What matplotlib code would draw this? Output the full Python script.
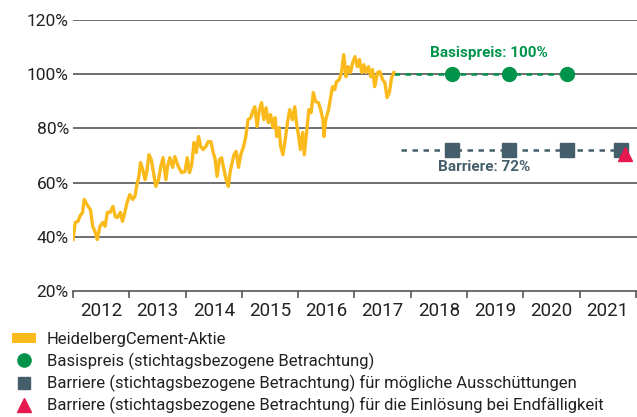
import matplotlib.pyplot as plt
from matplotlib.patches import Patch
from matplotlib.lines import Line2D

plt.rcParams['font.family'] = ['Roboto', 'DejaVu Sans']

# Kursverlauf HeidelbergCement (in % vom Basispreis)
aktie_jahr = [
    2012.00, 2012.04, 2012.09, 2012.12, 2012.17, 2012.20, 2012.23, 2012.27, 2012.31, 2012.35,
    2012.39, 2012.43, 2012.48, 2012.53, 2012.57, 2012.61, 2012.66, 2012.71, 2012.75, 2012.79,
    2012.84, 2012.88, 2012.92, 2012.96, 2013.01, 2013.06, 2013.10, 2013.13, 2013.17, 2013.20,
    2013.24, 2013.28, 2013.31, 2013.35, 2013.39, 2013.43, 2013.47, 2013.52, 2013.56, 2013.60,
    2013.65, 2013.68, 2013.72, 2013.77, 2013.81, 2013.87, 2013.93, 2013.99, 2014.03, 2014.07,
    2014.11, 2014.15, 2014.19, 2014.23, 2014.27, 2014.31, 2014.36, 2014.40, 2014.45, 2014.49,
    2014.52, 2014.56, 2014.60, 2014.64, 2014.67, 2014.72, 2014.76, 2014.79, 2014.82, 2014.86,
    2014.90, 2014.94, 2014.98, 2015.03, 2015.07, 2015.11, 2015.16, 2015.19, 2015.23, 2015.27,
    2015.31, 2015.35, 2015.39, 2015.43, 2015.47, 2015.51, 2015.55, 2015.59, 2015.62, 2015.66,
    2015.69, 2015.73, 2015.77, 2015.81, 2015.85, 2015.90, 2015.94, 2015.97, 2016.01, 2016.04,
    2016.08, 2016.11, 2016.15, 2016.19, 2016.23, 2016.27, 2016.31, 2016.36, 2016.40, 2016.44,
    2016.46, 2016.49, 2016.54, 2016.58, 2016.61, 2016.65, 2016.68, 2016.73, 2016.77, 2016.81,
    2016.85, 2016.89, 2016.93, 2016.97, 2017.01, 2017.05, 2017.09, 2017.13, 2017.17, 2017.20,
    2017.25, 2017.29, 2017.32, 2017.36, 2017.41, 2017.45, 2017.50, 2017.54, 2017.58, 2017.62,
    2017.66, 2017.70,
]
aktie_wert = [
    39.0, 45.3, 45.7, 47.5, 49.0, 53.8, 52.6, 51.2, 50.0, 43.9,
    42.0, 39.0, 43.9, 45.3, 43.9, 49.0, 49.0, 51.2, 47.5, 47.1,
    49.0, 45.7, 49.0, 52.6, 55.6, 53.8, 54.9, 58.6, 62.3, 67.4,
    64.8, 61.1, 63.7, 70.3, 68.5, 63.7, 58.6, 61.1, 66.0, 69.2,
    61.1, 66.0, 69.2, 65.6, 69.6, 66.0, 63.7, 64.1, 69.2, 63.7,
    66.7, 74.8, 71.1, 77.0, 73.3, 72.2, 73.3, 75.1, 75.1, 71.1,
    69.2, 62.3, 68.5, 69.2, 66.0, 61.1, 58.6, 63.7, 66.7, 70.3,
    71.5, 65.6, 70.3, 73.3, 77.0, 83.2, 84.0, 86.2, 88.0, 80.7,
    86.9, 89.5, 83.2, 87.6, 82.1, 85.1, 80.3, 84.0, 77.0, 80.3,
    73.3, 70.3, 75.9, 82.1, 86.9, 83.2, 88.0, 82.1, 77.0, 72.2,
    78.5, 70.3, 78.5, 86.9, 85.8, 93.2, 89.9, 89.5, 86.9, 83.2,
    77.0, 83.2, 86.9, 91.7, 95.4, 94.3, 97.2, 98.0, 100.6, 107.2,
    99.1, 102.8, 100.6, 104.3, 106.5, 102.8, 105.4, 100.6, 103.5, 100.6,
    102.8, 99.1, 101.7, 95.4, 100.6, 101.0, 98.0, 96.9, 91.4, 93.2,
    98.7, 100.6,
]

# Beobachtungstage
basis_jahr = [2018.73, 2019.74, 2020.77]
basis_wert = [100, 100, 100]
barriere_jahr = [2018.73, 2019.74, 2020.77, 2021.73]
barriere_wert = [72, 72, 72, 72]
end_jahr = [2021.80]
end_wert = [70.6]

jahre = list(range(2012, 2022))
y_ticks = [20, 40, 60, 80, 100, 120]

gelb = '#FBBA1B'
gruen = '#00944A'
schiefer = '#455E6C'
rot = '#E6194F'
grau = '#555555'

fig = plt.figure(figsize=(6.37, 4.17), dpi=100)
ax = fig.add_axes([73 / 637, 1 - 291 / 417, 1 - 73 / 637, (291 - 20) / 417])

ax.set_xlim(2012, 2022.02)
ax.set_ylim(20, 120)

for v in y_ticks[1:]:
    ax.axhline(v, color=grau, lw=1.2, zorder=1)

# gestrichelte Linien bis zum Laufzeitende
ax.plot([aktie_jahr[-1], basis_jahr[-1]], [100, 100], color=gruen, lw=1.8,
        dashes=(2.2, 2.2), zorder=2)
ax.plot([2017.83, barriere_jahr[-1]], [72, 72], color=schiefer, lw=1.8,
        dashes=(2.2, 2.2), zorder=2)

ax.plot(aktie_jahr, aktie_wert, color=gelb, lw=2.4, zorder=3)

ax.plot(basis_jahr, basis_wert, 'o', color=gruen, ms=10, zorder=4)
ax.plot(barriere_jahr, barriere_wert, 's', color=schiefer, ms=9.5, zorder=4)
ax.plot(end_jahr, end_wert, '^', color=rot, ms=9.5, zorder=5)

ax.text(2019.38, 107.9, 'Basispreis: 100%', color=gruen, fontsize=11,
        fontweight='bold', ha='center', va='center')
ax.text(2019.30, 65.9, 'Barriere: 72%', color=schiefer, fontsize=11,
        fontweight='bold', ha='center', va='center')

for s in ['top', 'right', 'left']:
    ax.spines[s].set_visible(False)
ax.spines['bottom'].set_color(grau)
ax.spines['bottom'].set_linewidth(1.2)

ax.set_yticks(y_ticks)
ax.set_yticklabels([f'{v}%' for v in y_ticks], fontsize=12.5, color='#222222')
ax.tick_params(axis='y', length=0, pad=3)

ax.set_xticks(jahre + [2022])
ax.set_xticklabels([])
ax.tick_params(axis='x', which='major', length=5, width=1.2, color=grau)
ax.set_xticks([j + 0.5 for j in jahre], minor=True)
ax.set_xticklabels([str(j) for j in jahre], minor=True, fontsize=13.5, color='#222222')
ax.tick_params(axis='x', which='minor', length=0, pad=8)

handles = [
    Patch(facecolor=gelb, edgecolor='none'),
    Line2D([], [], marker='o', ls='none', color=gruen, ms=9.5),
    Line2D([], [], marker='s', ls='none', color=schiefer, ms=9),
    Line2D([], [], marker='^', ls='none', color=rot, ms=9.5),
]
labels = [
    'HeidelbergCement-Aktie',
    'Basispreis (stichtagsbezogene Betrachtung)',
    'Barriere (stichtagsbezogene Betrachtung) für mögliche Ausschüttungen',
    'Barriere (stichtagsbezogene Betrachtung) für die Einlösung bei Endfälligkeit',
]
fig.legend(handles, labels, loc='upper left', bbox_to_anchor=(0.005, 1 - 324 / 417),
           frameon=False, fontsize=12, labelcolor='#222222', handlelength=1.45,
           handleheight=0.55, handletextpad=0.65, labelspacing=0.3, borderpad=0)

fig.savefig('out.png', dpi=100)
